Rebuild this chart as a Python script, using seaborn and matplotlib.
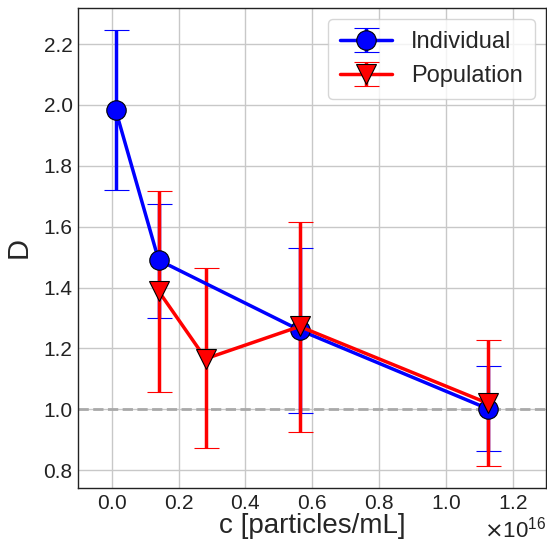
import numpy as np
import matplotlib
matplotlib.use("Agg")
import matplotlib.pyplot as plt
from matplotlib.ticker import ScalarFormatter
import seaborn as sns

sns.set_theme(style="whitegrid")
plt.rcParams['font.family'] = ['Liberation Sans', 'DejaVu Sans']

# concentration [particles/mL]
c_ind = [0.012e16, 0.1405e16, 0.562e16, 1.124e16]
D_ind = [1.983, 1.490, 1.260, 1.002]
D_ind_lo = [1.722, 1.300, 0.989, 0.864]
D_ind_hi = [2.246, 1.674, 1.529, 1.141]

c_pop = [0.1405e16, 0.281e16, 0.562e16, 1.124e16]
D_pop = [1.388, 1.166, 1.272, 1.020]
D_pop_lo = [1.056, 0.872, 0.925, 0.814]
D_pop_hi = [1.718, 1.463, 1.614, 1.227]

fig, ax = plt.subplots(figsize=(5.47, 5.42), dpi=100)
fig.subplots_adjust(left=0.143, right=0.999, top=0.986, bottom=0.099)

def draw(c, D, lo, hi, color, marker, label):
    D = np.array(D)
    yerr = [D - np.array(lo), np.array(hi) - D]
    ax.errorbar(c, D, yerr=yerr, color=color, marker=marker, markersize=14,
                markerfacecolor=color, markeredgecolor="black", markeredgewidth=0.8,
                lw=2.5, capsize=9, elinewidth=2.5, capthick=1.2, label=label)

draw(c_ind, D_ind, D_ind_lo, D_ind_hi, "blue", "o", "Individual")
draw(c_pop, D_pop, D_pop_lo, D_pop_hi, "red", "v", "Population")

ax.axhline(1.0, color="darkgray", ls="--", lw=2, zorder=1)

ax.set_xlim(-0.1e16, 1.3e16)
ax.set_ylim(0.74, 2.32)
ax.set_xticks(np.arange(0, 1.3e16, 0.2e16))
ax.set_yticks(np.arange(0.8, 2.3, 0.2))
fmt = ScalarFormatter(useMathText=True)
ax.xaxis.set_major_formatter(fmt)
ax.tick_params(labelsize=15, colors="#222222", length=0, pad=4)
ax.xaxis.get_offset_text().set_fontsize(16)

ax.set_xlabel("c [particles/mL]", fontsize=20, labelpad=0)
ax.set_ylabel("D", fontsize=21, labelpad=8)

for s in ax.spines.values():
    s.set_color("#222222")
    s.set_linewidth(1.0)
ax.grid(color="#c8c8c8", lw=1)

ax.legend(loc="upper right", fontsize=17, framealpha=0.8, handlelength=2.2,
          borderpad=0.5)

fig.savefig("out.png", dpi=100)
